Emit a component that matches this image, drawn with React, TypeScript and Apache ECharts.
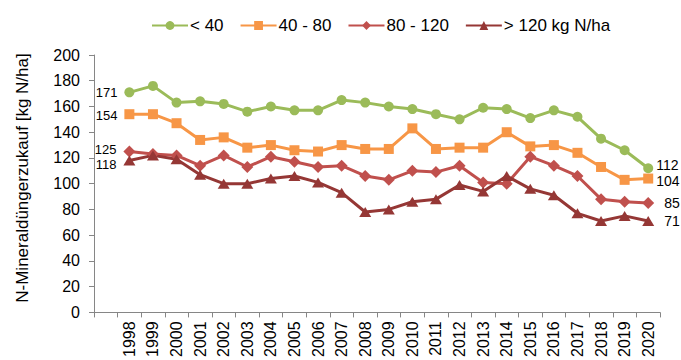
import React, { useEffect, useRef } from "react";
import * as echarts from "echarts";

const FONT = '"Liberation Sans", Arial, sans-serif';

// Years on the category axis (a blank slot precedes 1998)
const years = [
  "1998", "1999", "2000", "2001", "2002", "2003", "2004", "2005", "2006", "2007", "2008", "2009",
  "2010", "2011", "2012", "2013", "2014", "2015", "2016", "2017", "2018", "2019", "2020",
];

// N-Mineraldüngerzukauf in kg N/ha per size class
const below40 = [171, 176, 163, 164, 162, 156, 160, 157, 157, 165, 163, 160, 158, 154, 150, 159, 158, 151, 157, 152, 135, 126, 112];
const from40to80 = [154, 154, 147, 134, 136, 128, 130, 126, 125, 130, 127, 127, 143, 127, 128, 128, 140, 129, 130, 124, 113, 103, 104];
const from80to120 = [125, 123, 122, 114, 122, 113, 121, 117, 113, 114, 106, 103, 110, 109, 114, 101, 100, 121, 114, 106, 88, 86, 85];
const above120 = [118, 122, 119, 107, 100, 100, 104, 106, 101, 93, 78, 80, 86, 88, 99, 94, 106, 96, 91, 77, 71, 75, 71];

const seriesNames = ["< 40", "40 - 80", "80 - 120", "> 120 kg N/ha"];
const seriesColors = ["#9BBB59", "#F79646", "#C0504D", "#953735"];

const yTitle = "N-Mineraldüngerzukauf [kg N/ha]";

type Style = {
  symbol: string;
  symbolSize: number | number[];
  endDistance: number;
  startOffsetY: number;
  endOffsetY: number;
};

const styles: Style[] = [
  { symbol: "circle", symbolSize: 10, endDistance: 3, startOffsetY: 0, endOffsetY: -3 },
  { symbol: "rect", symbolSize: 10, endDistance: 3, startOffsetY: 1, endOffsetY: 2 },
  { symbol: "diamond", symbolSize: 12, endDistance: 10, startOffsetY: -2, endOffsetY: 0 },
  { symbol: "triangle", symbolSize: [12, 10], endDistance: 10, startOffsetY: 4, endOffsetY: 0 },
];

function buildData(values: number[], st: Style) {
  const last = values.length - 1;
  const items: any[] = [null];
  values.forEach((v, i) => {
    if (i === 0) {
      items.push({
        value: v,
        label: {
          show: true,
          position: "left",
          distance: 7,
          offset: [0, st.startOffsetY],
        },
      });
    } else if (i === last) {
      items.push({
        value: v,
        label: {
          show: true,
          position: "right",
          distance: st.endDistance,
          offset: [0, st.endOffsetY],
          fontSize: 14,
        },
      });
    } else {
      items.push(v);
    }
  });
  return items;
}

export default function App() {
  const ref = useRef<HTMLDivElement>(null);

  useEffect(() => {
    if (!ref.current) return;
    const chart = echarts.init(ref.current, null, { renderer: "svg" });
    const allValues = [below40, from40to80, from80to120, above120];

    chart.setOption({
      animation: false,
      textStyle: { fontFamily: FONT },
      grid: { left: 94, right: 21, top: 55, bottom: 47, containLabel: false },
      legend: {
        left: 146,
        top: 12,
        itemWidth: 36,
        itemHeight: 11,
        itemGap: 16,
        textStyle: { fontFamily: FONT, fontSize: 17, color: "#000", padding: [0, 0, 0, -3] },
        data: seriesNames,
      },
      xAxis: {
        type: "category",
        data: ["", ...years],
        boundaryGap: true,
        axisLine: { lineStyle: { color: "#868686", width: 1 } },
        axisTick: { show: true, length: 5, interval: 0, lineStyle: { color: "#868686" } },
        axisLabel: {
          interval: 0,
          rotate: 90,
          margin: 9,
          fontFamily: FONT,
          fontSize: 16,
          color: "#000",
        },
        splitLine: { show: false },
      },
      yAxis: {
        type: "value",
        min: 0,
        max: 200,
        interval: 20,
        axisLine: { show: true, lineStyle: { color: "#868686", width: 1 } },
        axisTick: { show: true, length: 5, lineStyle: { color: "#868686" } },
        axisLabel: { margin: 14, fontFamily: FONT, fontSize: 16, color: "#000" },
        splitLine: { show: false },
      },
      graphic: [
        {
          type: "text",
          x: 22,
          y: 178,
          rotation: Math.PI / 2,
          style: {
            text: yTitle,
            fontFamily: FONT,
            fontSize: 17,
            fill: "#000",
            textAlign: "center",
            textVerticalAlign: "middle",
          },
        },
      ],
      series: allValues.map((vals, i) => ({
        name: seriesNames[i],
        type: "line",
        data: buildData(vals, styles[i]),
        symbol: styles[i].symbol,
        symbolSize: styles[i].symbolSize,
        showSymbol: true,
        connectNulls: false,
        lineStyle: { color: seriesColors[i], width: 3 },
        itemStyle: { color: seriesColors[i] },
        label: { fontFamily: FONT, fontSize: 13, color: "#000" },
        emphasis: { disabled: true },
      })),
    });

    return () => chart.dispose();
  }, []);

  return (
    <div
      ref={ref}
      style={{ position: "fixed", left: 0, top: 0, width: 681, height: 360, background: "#fff" }}
    />
  );
}
